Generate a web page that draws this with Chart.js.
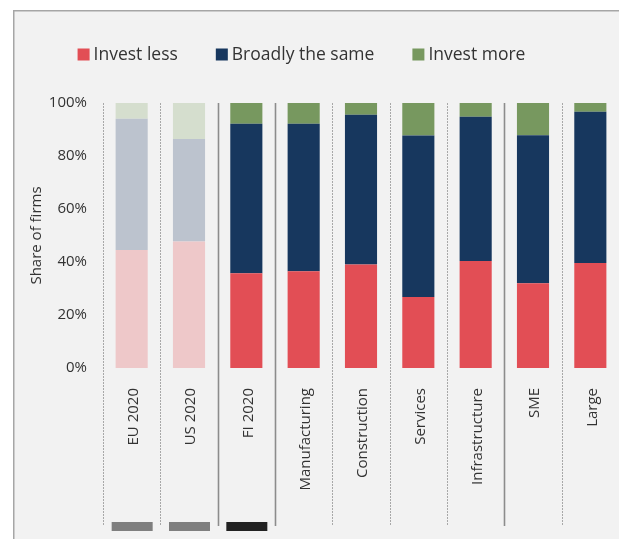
<!DOCTYPE html>
<html>
<head>
<meta charset="utf-8">
<script src="https://cdn.jsdelivr.net/npm/chart.js@4/dist/chart.umd.min.js"></script>
<style>
  html, body { margin: 0; padding: 0; background: #ffffff; }
  #wrap { width: 619px; height: 539px; position: relative; }
</style>
</head>
<body>
<div id="wrap"><canvas id="c" width="619" height="539"></canvas></div>
<script>
const categories = ['EU 2020', 'US 2020', 'FI 2020', 'Manufacturing', 'Construction', 'Services', 'Infrastructure', 'SME', 'Large'];
const investLess = [44.5, 47.7, 35.8, 36.5, 39.1, 26.8, 40.4, 32.0, 39.6];
const broadlySame = [49.6, 38.7, 56.4, 55.7, 56.5, 60.9, 54.4, 55.8, 57.1];
const investMore = [5.9, 13.6, 7.8, 7.8, 4.4, 12.3, 5.2, 12.2, 3.3];
const seriesNames = ['Invest less', 'Broadly the same', 'Invest more'];
const yTicks = [0, 20, 40, 60, 80, 100];
const benchmarkCategories = ['EU 2020', 'US 2020'];

const FONT = "'Open Sans', 'Noto Sans', sans-serif";
const TEXT = '#333333';
const strong = ['#e24e55', '#17375e', '#77985f'];
const faded = ['#eec8c9', '#bcc3ce', '#d5dece'];

function colorFor(k) {
  return ctx => benchmarkCategories.includes(categories[ctx.dataIndex]) ? faded[k] : strong[k];
}

const panelPlugin = {
  id: 'panel',
  beforeDraw(chart) {
    const ctx = chart.ctx;
    ctx.save();
    ctx.fillStyle = '#f2f2f2';
    ctx.fillRect(13, 10, chart.width - 13, chart.height - 10);
    ctx.strokeStyle = '#a6a6a6';
    ctx.lineWidth = 1.5;
    ctx.beginPath();
    ctx.moveTo(13.75, chart.height);
    ctx.lineTo(13.75, 10.75);
    ctx.lineTo(chart.width, 10.75);
    ctx.stroke();
    ctx.restore();
  }
};

const separatorPlugin = {
  id: 'separators',
  beforeDatasetsDraw(chart) {
    const ctx = chart.ctx;
    const xs = chart.scales.x;
    const area = chart.chartArea;
    const half = (xs.getPixelForValue(1) - xs.getPixelForValue(0)) / 2;
    const solidEdges = [2, 3, 7];
    const bottom = 526;
    ctx.save();
    for (let i = 0; i <= categories.length; i++) {
      const x = (i < categories.length ? xs.getPixelForValue(i) - half : xs.getPixelForValue(i - 1) + half);
      ctx.beginPath();
      if (solidEdges.includes(i)) {
        ctx.setLineDash([]);
        ctx.strokeStyle = '#8c8c8c';
        ctx.lineWidth = 1.6;
      } else {
        ctx.setLineDash([2, 1]);
        ctx.strokeStyle = '#a8a8a8';
        ctx.lineWidth = 1;
      }
      const px = Math.round(x) + 0.5;
      ctx.moveTo(px, area.top);
      ctx.lineTo(px, bottom);
      ctx.stroke();
    }
    ctx.setLineDash([]);
    const badge = { 'EU 2020': '#7f7f7f', 'US 2020': '#7f7f7f', 'FI 2020': '#222222' };
    categories.forEach((c, i) => {
      if (badge[c]) {
        const cx = xs.getPixelForValue(i);
        ctx.fillStyle = badge[c];
        ctx.fillRect(cx - 20, 522, 41, 9);
      }
    });
    ctx.restore();
  }
};

const legendPlugin = {
  id: 'customLegend',
  afterDraw(chart) {
    const ctx = chart.ctx;
    ctx.save();
    ctx.font = '17.5px ' + FONT;
    ctx.textBaseline = 'middle';
    const box = 12, gapText = 4, gapItem = 38;
    const widths = seriesNames.map(n => box + gapText + ctx.measureText(n).width);
    const total = widths.reduce((a, b) => a + b, 0) + gapItem * (seriesNames.length - 1);
    let x = 301.5 - total / 2;
    const cy = 54.5;
    seriesNames.forEach((n, k) => {
      ctx.fillStyle = strong[k];
      ctx.fillRect(x, cy - box / 2, box, box);
      ctx.fillStyle = TEXT;
      ctx.fillText(n, x + box + gapText, cy + 1);
      x += widths[k] + gapItem;
    });
    ctx.restore();
  }
};

new Chart(document.getElementById('c'), {
  type: 'bar',
  data: {
    labels: categories,
    datasets: [
      { label: seriesNames[0], data: investLess, backgroundColor: colorFor(0) },
      { label: seriesNames[1], data: broadlySame, backgroundColor: colorFor(1) },
      { label: seriesNames[2], data: investMore, backgroundColor: colorFor(2) }
    ]
  },
  options: {
    responsive: false,
    animation: false,
    devicePixelRatio: 1,
    layout: { padding: { top: 103, left: 13, right: -1, bottom: 0 } },
    datasets: { bar: { barPercentage: 0.56, categoryPercentage: 1.0, borderWidth: 0 } },
    plugins: {
      legend: { display: false },
      tooltip: { enabled: false }
    },
    scales: {
      x: {
        stacked: true,
        grid: { display: false, drawTicks: false },
        border: { display: false },
        ticks: {
          minRotation: 90, maxRotation: 90, autoSkip: false,
          padding: 20,
          labelOffset: 2,
          color: TEXT,
          font: { family: FONT, size: 15 }
        },
        afterFit(s) { s.height = 171; s.paddingLeft = 0; s.paddingRight = 0; }
      },
      y: {
        stacked: true,
        min: 0, max: 100,
        afterBuildTicks(s) { s.ticks = yTicks.map(v => ({ value: v })); },
        grid: { display: false, drawTicks: false },
        border: { display: false },
        ticks: {
          padding: 16,
          color: TEXT,
          font: { family: FONT, size: 15 },
          callback: v => v + '%'
        },
        title: {
          display: true,
          text: 'Share of firms',
          color: TEXT,
          font: { family: FONT, size: 15 },
          padding: { top: 15, bottom: 3 }
        },
        afterFit(s) { s.width = 90; s.paddingTop = 0; s.paddingBottom = 0; }
      }
    }
  },
  plugins: [panelPlugin, separatorPlugin, legendPlugin]
});
</script>
</body>
</html>
